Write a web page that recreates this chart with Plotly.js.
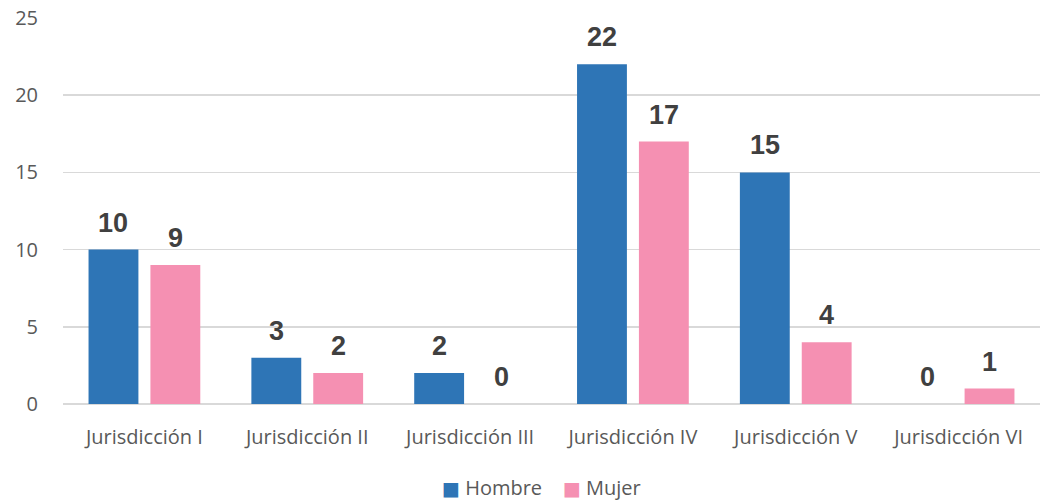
<!DOCTYPE html>
<html>
<head>
<meta charset="utf-8">
<script src="https://cdn.plot.ly/plotly-3.0.1.min.js"></script>
<style>html,body{margin:0;padding:0;background:#fff;}#chart{width:1048px;height:502px;}</style>
</head>
<body>
<div id="chart"></div>
<script>
const categories = ["Jurisdicción I", "Jurisdicción II", "Jurisdicción III", "Jurisdicción IV", "Jurisdicción V", "Jurisdicción VI"];
const hombre = [10, 3, 2, 22, 15, 0];
const mujer = [9, 2, 0, 17, 4, 1];
const seriesNames = ["Hombre", "Mujer"];
const yTicks = [0, 5, 10, 15, 20, 25];

const colH = "#2E75B6";
const colM = "#F590B2";

const traces = [
  {type: "bar", name: seriesNames[0], x: categories, y: hombre, marker: {color: colH}, hoverinfo: "none", showlegend: false},
  {type: "bar", name: seriesNames[1], x: categories, y: mujer, marker: {color: colM}, hoverinfo: "none", showlegend: false}
];

const annotations = [];
const labelFont = {family: "Liberation Sans, Arial, sans-serif", size: 27, color: "#404040", weight: "bold"};
categories.forEach((c, i) => {
  annotations.push({x: c, y: hombre[i], text: "<b>" + hombre[i] + "</b>", showarrow: false, xanchor: "center", yanchor: "bottom", xshift: -31, yshift: 10, font: labelFont});
  annotations.push({x: c, y: mujer[i], text: "<b>" + mujer[i] + "</b>", showarrow: false, xanchor: "center", yanchor: "bottom", xshift: 31, yshift: 10, font: labelFont});
});

// custom legend (compact, like the original)
const sq = (col) => '<span style="color:' + col + ';font-family:DejaVu Sans;font-size:19px">■</span>';
annotations.push({
  xref: "paper", yref: "paper", x: 0.4898, y: -0.2176, xanchor: "center", yanchor: "middle", showarrow: false,
  text: sq(colH) + " " + seriesNames[0] + "&nbsp;&nbsp;&nbsp;&nbsp;" + sq(colM) + " " + seriesNames[1],
  font: {family: "Open Sans, sans-serif", size: 20, color: "#595959"}
});

const layout = {
  width: 1048, height: 502,
  margin: {l: 63, r: 8, t: 18, b: 98},
  paper_bgcolor: "#fff", plot_bgcolor: "#fff",
  barmode: "group", bargap: 0.24, bargroupgap: 0.194,
  font: {family: "Open Sans, sans-serif", size: 20, color: "#595959"},
  xaxis: {type: "category", showgrid: false, zeroline: false, showline: false, automargin: false,
          ticks: "outside", ticklen: 15, tickcolor: "rgba(0,0,0,0)",
          tickfont: {family: "Open Sans, sans-serif", size: 20, color: "#595959"}, fixedrange: true},
  yaxis: {range: [0, 25], tickvals: yTicks, ticktext: yTicks.map(String), showgrid: true, gridcolor: "#D9D9D9", gridwidth: 1.5,
          zeroline: true, zerolinecolor: "#D9D9D9", zerolinewidth: 1.5, showline: false, automargin: false,
          ticks: "outside", ticklen: 20, tickcolor: "rgba(0,0,0,0)",
          tickfont: {family: "Open Sans, sans-serif", size: 20, color: "#595959"}, fixedrange: true},
  showlegend: false,
  annotations: annotations
};

Plotly.newPlot("chart", traces, layout, {displayModeBar: false, staticPlot: true});
</script>
</body>
</html>
